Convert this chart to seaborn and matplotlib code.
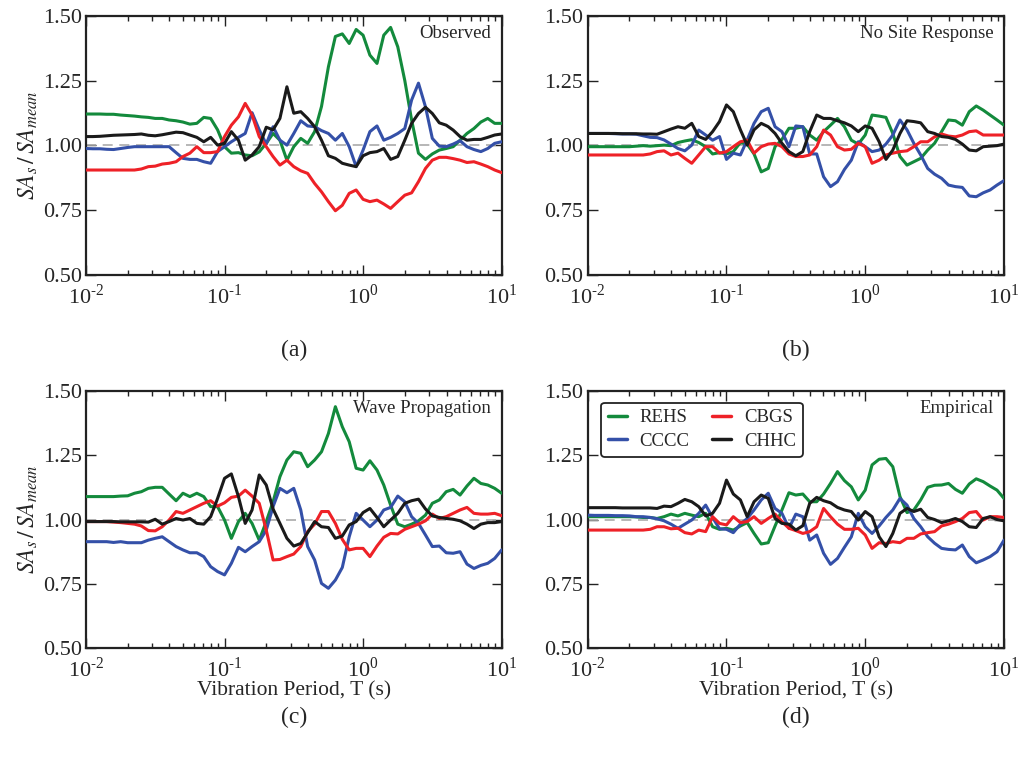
import numpy as np
import pandas as pd
import seaborn as sns
from matplotlib import pyplot as plt
from matplotlib.ticker import LogLocator, MultipleLocator, NullFormatter, FuncFormatter

sns.set_style("ticks")
plt.rcParams['font.family'] = ['Liberation Serif', 'DejaVu Serif']
plt.rcParams['mathtext.fontset'] = 'stix'

# vibration period grid (s)
periods = [
    0.0100, 0.0112, 0.0126, 0.0141, 0.0158, 0.0178, 0.0200, 0.0224, 0.0251, 0.0282,
    0.0316, 0.0355, 0.0398, 0.0447, 0.0501, 0.0562, 0.0631, 0.0708, 0.0794, 0.0891,
    0.100, 0.112, 0.126, 0.141, 0.158, 0.178, 0.200, 0.224, 0.251, 0.282,
    0.316, 0.355, 0.398, 0.447, 0.501, 0.562, 0.631, 0.708, 0.794, 0.891,
    1.00, 1.12, 1.26, 1.41, 1.58, 1.78, 2.00, 2.24, 2.51, 2.82,
    3.16, 3.55, 3.98, 4.47, 5.01, 5.62, 6.31, 7.08, 7.94, 8.91, 10.0,
]

stations = ["REHS", "CCCC", "CBGS", "CHHC"]
colors = {"REHS": "#138a3c", "CCCC": "#3450a8", "CBGS": "#ee2127", "CHHC": "#1a1a1a"}
panel_titles = ["Observed", "No Site Response", "Wave Propagation", "Empirical"]
panel_tags = ["(a)", "(b)", "(c)", "(d)"]

# ---- (a) Observed
obs_rehs = [1.121, 1.121, 1.121, 1.12, 1.12, 1.117, 1.115, 1.113, 1.11, 1.108,
            1.104, 1.104, 1.098, 1.095, 1.09, 1.082, 1.085, 1.108, 1.104, 1.06,
            0.995, 0.97, 0.972, 0.963, 0.96, 0.975, 1.008, 1.046, 1.02, 0.943,
            0.995, 1.027, 1.008, 1.053, 1.15, 1.303, 1.42, 1.43, 1.393, 1.447,
            1.425, 1.348, 1.316, 1.425, 1.455, 1.38, 1.25, 1.098, 0.97, 0.946,
            0.967, 0.982, 0.988, 0.995, 1.02, 1.046, 1.065, 1.09, 1.104, 1.085, 1.085]
obs_cccc = [0.988, 0.987, 0.987, 0.985, 0.984, 0.988, 0.992, 0.995, 0.995, 0.995,
            0.995, 0.995, 0.995, 0.972, 0.95, 0.946, 0.946, 0.937, 0.931, 0.976,
            0.995, 1.014, 1.031, 1.046, 1.126, 1.06, 1.005, 1.072, 1.02, 1.001,
            1.046, 1.095, 1.075, 1.072, 1.057, 1.046, 1.02, 1.046, 0.995, 0.918,
            0.982, 1.053, 1.075, 1.02, 1.031, 1.046, 1.065, 1.175, 1.24, 1.149,
            1.027, 0.997, 0.995, 1.005, 1.018, 0.995, 0.984, 0.976, 0.988, 1.008, 1.014]
obs_cbgs = [0.905, 0.905, 0.905, 0.905, 0.905, 0.905, 0.905, 0.905, 0.909, 0.918,
            0.92, 0.928, 0.931, 0.937, 0.957, 0.97, 0.995, 0.972, 0.972, 0.976,
            1.034, 1.078, 1.11, 1.162, 1.117, 1.034, 0.995, 0.957, 0.924, 0.943,
            0.918, 0.902, 0.892, 0.853, 0.821, 0.783, 0.748, 0.769, 0.815, 0.828,
            0.792, 0.783, 0.789, 0.774, 0.757, 0.783, 0.808, 0.817, 0.86, 0.911,
            0.943, 0.954, 0.954, 0.949, 0.943, 0.934, 0.937, 0.928, 0.918, 0.905, 0.895]
obs_chhc = [1.034, 1.034, 1.035, 1.037, 1.039, 1.04, 1.041, 1.042, 1.044, 1.039,
            1.037, 1.041, 1.046, 1.051, 1.049, 1.04, 1.031, 1.014, 1.031, 1.001,
            1.008, 1.053, 1.02, 0.943, 0.963, 0.995, 1.07, 1.06, 1.104, 1.226,
            1.124, 1.13, 1.104, 1.072, 1.02, 0.96, 0.95, 0.931, 0.924, 0.918,
            0.96, 0.972, 0.976, 0.988, 0.946, 0.957, 1.02, 1.085, 1.123, 1.147,
            1.123, 1.087, 1.078, 1.059, 1.034, 1.02, 1.023, 1.023, 1.031, 1.04, 1.044]

# ---- (b) No Site Response
nsr_rehs = [0.995, 0.995, 0.995, 0.995, 0.995, 0.995, 0.995, 0.997, 0.999, 0.997,
            0.999, 1.001, 0.999, 1.011, 1.017, 1.022, 1.011, 0.995, 0.967, 0.972,
            0.967, 0.976, 1.011, 1.005, 0.967, 0.898, 0.911, 0.995, 1.023, 1.066,
            1.066, 1.072, 1.04, 1.02, 1.053, 1.078, 1.104, 1.072, 1.02, 1.005,
            1.04, 1.117, 1.113, 1.108, 1.046, 0.957, 0.924, 0.937, 0.95, 0.982,
            1.008, 1.053, 1.098, 1.095, 1.078, 1.13, 1.152, 1.136, 1.117, 1.098, 1.078]
nsr_cccc = [1.046, 1.046, 1.046, 1.046, 1.045, 1.044, 1.044, 1.043, 1.037, 1.031,
            1.03, 1.021, 1.005, 0.988, 0.979, 1.001, 1.059, 1.04, 1.02, 1.034,
            0.946, 0.97, 0.963, 1.021, 1.085, 1.13, 1.143, 1.072, 1.053, 0.995,
            1.075, 1.072, 0.967, 0.967, 0.879, 0.841, 0.86, 0.907, 0.943, 1.014,
            0.995, 0.976, 0.982, 1.005, 1.04, 1.098, 1.06, 1.008, 0.963, 0.911,
            0.889, 0.873, 0.847, 0.841, 0.838, 0.805, 0.802, 0.817, 0.828, 0.847, 0.864]
nsr_cbgs = [0.963, 0.963, 0.963, 0.963, 0.963, 0.963, 0.963, 0.963, 0.963, 0.967,
            0.976, 0.979, 0.963, 0.97, 0.95, 0.931, 0.963, 0.995, 0.995, 0.97,
            0.976, 0.995, 1.014, 1.02, 0.97, 0.995, 1.005, 1.008, 0.995, 0.967,
            0.957, 0.957, 0.963, 0.995, 1.059, 1.04, 0.995, 0.982, 0.985, 1.008,
            0.995, 0.931, 0.943, 0.963, 0.97, 0.976, 0.979, 0.995, 1.014, 1.014,
            1.033, 1.044, 1.036, 1.033, 1.04, 1.053, 1.056, 1.04, 1.04, 1.04, 1.04]
nsr_chhc = [1.046, 1.046, 1.046, 1.046, 1.046, 1.045, 1.045, 1.045, 1.044, 1.044,
            1.043, 1.053, 1.063, 1.072, 1.066, 1.085, 1.034, 1.023, 1.053, 1.092,
            1.156, 1.13, 1.06, 1.001, 1.06, 1.085, 1.072, 1.046, 1.008, 0.976,
            0.96, 0.976, 1.053, 1.117, 1.104, 1.104, 1.095, 1.087, 1.075, 1.053,
            1.075, 1.066, 1.014, 0.946, 0.982, 1.046, 1.095, 1.092, 1.087, 1.053,
            1.046, 1.034, 1.031, 1.023, 1.005, 0.982, 0.979, 0.995, 0.997, 0.999, 1.005]

# ---- (c) Wave Propagation
wav_rehs = [1.089, 1.089, 1.089, 1.089, 1.089, 1.091, 1.092, 1.102, 1.108, 1.121,
            1.125, 1.125, 1.099, 1.073, 1.102, 1.089, 1.102, 1.089, 1.05, 1.05,
            0.998, 0.927, 0.992, 1.024, 0.985, 0.92, 0.992, 1.069, 1.166, 1.231,
            1.263, 1.257, 1.205, 1.231, 1.263, 1.334, 1.438, 1.36, 1.302, 1.199,
            1.192, 1.228, 1.192, 1.134, 1.056, 0.982, 0.972, 0.982, 0.995, 1.017,
            1.063, 1.076, 1.108, 1.117, 1.095, 1.13, 1.16, 1.14, 1.134, 1.121, 1.102]
wav_cccc = [0.914, 0.914, 0.914, 0.914, 0.911, 0.914, 0.91, 0.91, 0.91, 0.92,
            0.927, 0.933, 0.914, 0.895, 0.882, 0.871, 0.871, 0.856, 0.817, 0.798,
            0.785, 0.83, 0.892, 0.875, 0.895, 0.914, 0.959, 1.05, 1.121, 1.104,
            1.121, 1.037, 0.895, 0.843, 0.752, 0.733, 0.765, 0.814, 0.933, 1.024,
            0.998, 0.972, 0.998, 1.037, 1.047, 1.091, 1.069, 1.011, 0.985, 0.94,
            0.895, 0.897, 0.871, 0.869, 0.875, 0.827, 0.81, 0.822, 0.83, 0.849, 0.882]
wav_cbgs = [0.992, 0.992, 0.992, 0.992, 0.99, 0.988, 0.985, 0.982, 0.975, 0.957,
            0.956, 0.972, 0.998, 1.031, 1.024, 1.037, 1.05, 1.063, 1.073, 1.052,
            1.065, 1.086, 1.091, 1.114, 1.091, 1.063, 0.959, 0.843, 0.845, 0.856,
            0.866, 0.895, 0.953, 0.982, 1.031, 1.031, 0.985, 0.923, 0.882, 0.888,
            0.888, 0.856, 0.897, 0.931, 0.946, 0.944, 0.962, 0.972, 0.982, 0.995,
            1.021, 1.004, 1.011, 1.024, 1.037, 1.047, 1.024, 1.021, 1.021, 1.024, 1.015]
wav_chhc = [0.992, 0.992, 0.992, 0.992, 0.992, 0.991, 0.991, 0.991, 0.991, 0.99,
            1.001, 0.982, 0.992, 1.004, 0.998, 1.004, 0.985, 0.982, 1.011, 1.082,
            1.16, 1.177, 1.089, 0.985, 1.037, 1.173, 1.134, 1.041, 0.985, 0.927,
            0.897, 0.907, 0.949, 0.992, 0.972, 0.969, 0.927, 0.936, 0.979, 0.992,
            1.027, 1.043, 1.008, 0.972, 0.998, 1.024, 1.063, 1.073, 1.079, 1.041,
            1.014, 1.008, 1.004, 1.001, 0.995, 0.982, 0.965, 0.982, 0.988, 0.988, 0.992]

# ---- (d) Empirical
emp_rehs = [1.011, 1.011, 1.011, 1.011, 1.011, 1.011, 1.011, 1.01, 1.008, 1.008,
            1.004, 1.011, 1.021, 1.014, 1.024, 1.017, 1.011, 1.024, 0.972, 0.962,
            0.966, 0.959, 0.975, 0.988, 0.946, 0.905, 0.91, 0.975, 1.037, 1.104,
            1.095, 1.099, 1.069, 1.069, 1.099, 1.14, 1.186, 1.151, 1.127, 1.076,
            1.114, 1.212, 1.234, 1.237, 1.205, 1.089, 1.027, 1.037, 1.076, 1.125,
            1.133, 1.134, 1.14, 1.117, 1.102, 1.138, 1.158, 1.147, 1.13, 1.114, 1.082]
emp_cccc = [1.017, 1.016, 1.016, 1.016, 1.015, 1.015, 1.014, 1.011, 1.011, 1.008,
            1.003, 0.995, 0.982, 0.966, 0.982, 0.998, 1.024, 1.056, 1.008, 0.964,
            0.962, 0.949, 0.982, 1.004, 1.037, 1.076, 1.102, 1.043, 1.024, 0.966,
            1.021, 1.011, 0.92, 0.94, 0.869, 0.826, 0.849, 0.892, 0.933, 1.024,
            0.972, 0.946, 0.975, 1.008, 1.037, 1.082, 1.056, 1.004, 0.972, 0.933,
            0.908, 0.888, 0.884, 0.882, 0.901, 0.856, 0.832, 0.843, 0.856, 0.875, 0.92]
emp_cbgs = [0.959, 0.959, 0.959, 0.959, 0.959, 0.959, 0.959, 0.959, 0.959, 0.962,
            0.972, 0.972, 0.964, 0.966, 0.949, 0.944, 0.959, 0.953, 1.011, 0.985,
            0.979, 1.011, 0.988, 0.992, 1.011, 0.985, 1.004, 1.021, 0.992, 0.966,
            0.957, 0.946, 0.953, 0.972, 1.043, 1.011, 0.982, 0.962, 0.962, 0.966,
            0.94, 0.888, 0.91, 0.907, 0.914, 0.91, 0.927, 0.927, 0.944, 0.949,
            0.953, 0.975, 0.982, 0.992, 1.004, 1.027, 1.031, 0.998, 1.011, 1.011, 1.008]
emp_chhc = [1.046, 1.046, 1.046, 1.046, 1.046, 1.045, 1.045, 1.045, 1.045, 1.045,
            1.043, 1.052, 1.05, 1.063, 1.078, 1.069, 1.05, 1.014, 1.024, 1.063,
            1.153, 1.099, 1.076, 1.011, 1.069, 1.095, 1.082, 1.004, 0.985, 0.982,
            0.959, 0.976, 1.063, 1.086, 1.073, 1.065, 1.047, 1.037, 1.031, 0.998,
            1.031, 1.011, 0.933, 0.895, 0.946, 1.024, 1.043, 1.031, 1.04, 1.008,
            1.0, 0.988, 0.995, 1.004, 0.992, 0.972, 0.969, 1.004, 1.011, 1.0, 0.995]

panel_data = [
    [obs_rehs, obs_cccc, obs_cbgs, obs_chhc],
    [nsr_rehs, nsr_cccc, nsr_cbgs, nsr_chhc],
    [wav_rehs, wav_cccc, wav_cbgs, wav_chhc],
    [emp_rehs, emp_cccc, emp_cbgs, emp_chhc],
]

records = []
for p, series in enumerate(panel_data):
    for name, vals in zip(stations, series):
        for t, v in zip(periods, vals):
            records.append({"panel": p, "station": name, "period": t, "ratio": v})
df = pd.DataFrame(records)


def decade_label(x, pos):
    # 10 with a small hyphen-style exponent, like the original figure
    n = int(round(np.log10(x)))
    exp = f"-{abs(n)}" if n < 0 else f"{n}"
    return "10$^{\\mathregular{" + exp.replace("-", "\\text{-}") + "}}$"


fig = plt.figure(figsize=(10.2, 7.64), dpi=100)
positions = [
    [0.0843, 0.640, 0.4075, 0.3394],
    [0.5762, 0.640, 0.4081, 0.3394],
    [0.0843, 0.1514, 0.4075, 0.3372],
    [0.5762, 0.1514, 0.4081, 0.3372],
]

for p in range(4):
    ax = fig.add_axes(positions[p])
    sub = df[df["panel"] == p]
    ax.axhline(1.0, color="#aaaaaa", lw=1.2, ls=(0, (6, 4)), zorder=1)
    sns.lineplot(data=sub, x="period", y="ratio", hue="station", hue_order=stations,
                 palette=colors, lw=2.2, ax=ax, legend=(p == 3), zorder=3)
    ax.set_xscale("log")
    ax.set_xlim(0.01, 10)
    ax.set_ylim(0.5, 1.5)
    ax.yaxis.set_major_locator(MultipleLocator(0.25))
    ax.yaxis.set_major_formatter(plt.FormatStrFormatter("%.2f"))
    ax.xaxis.set_major_locator(LogLocator(base=10, numticks=10))
    ax.xaxis.set_major_formatter(FuncFormatter(decade_label))
    ax.xaxis.set_minor_locator(LogLocator(base=10, subs=np.arange(2, 10), numticks=20))
    ax.xaxis.set_minor_formatter(NullFormatter())
    ax.tick_params(which="both", direction="in", top=True, right=True, labelsize=16,
                   width=1.0, color="#222222")
    ax.tick_params(which="major", length=7)
    ax.tick_params(which="minor", length=3.5)
    ax.tick_params(axis="x", which="major", pad=7)
    ax.tick_params(axis="y", which="major", pad=3)
    for s in ax.spines.values():
        s.set_linewidth(1.6)
        s.set_color("#222222")

    if p % 2 == 0:
        ax.set_ylabel("$SA_s\\,/\\,SA_{mean}$", fontsize=17, labelpad=2)
    else:
        ax.set_ylabel("")
    if p >= 2:
        ax.set_xlabel("Vibration Period, T (s)", fontsize=15.5, labelpad=-1)
    else:
        ax.set_xlabel("")

    ax.text(0.975, 0.93, panel_titles[p], transform=ax.transAxes, ha="right", va="center",
            fontsize=13.5)
    ax.text(0.5, -0.29 if p < 2 else -0.27, panel_tags[p], transform=ax.transAxes,
            ha="center", va="center", fontsize=17)

    if p == 3:
        leg = ax.legend(loc="upper left", ncol=2, fontsize=13.5, frameon=True, fancybox=True,
                        handlelength=1.0, handletextpad=0.7, columnspacing=1.2,
                        borderpad=0.35, labelspacing=0.35,
                        bbox_to_anchor=(0.01, 0.99), title=None)
        leg.get_frame().set_edgecolor("#222222")
        leg.get_frame().set_linewidth(1.3)
        leg.get_frame().set_alpha(1.0)
        for line in leg.get_lines():
            line.set_linewidth(2.5)

fig.savefig("out.png", dpi=100)
